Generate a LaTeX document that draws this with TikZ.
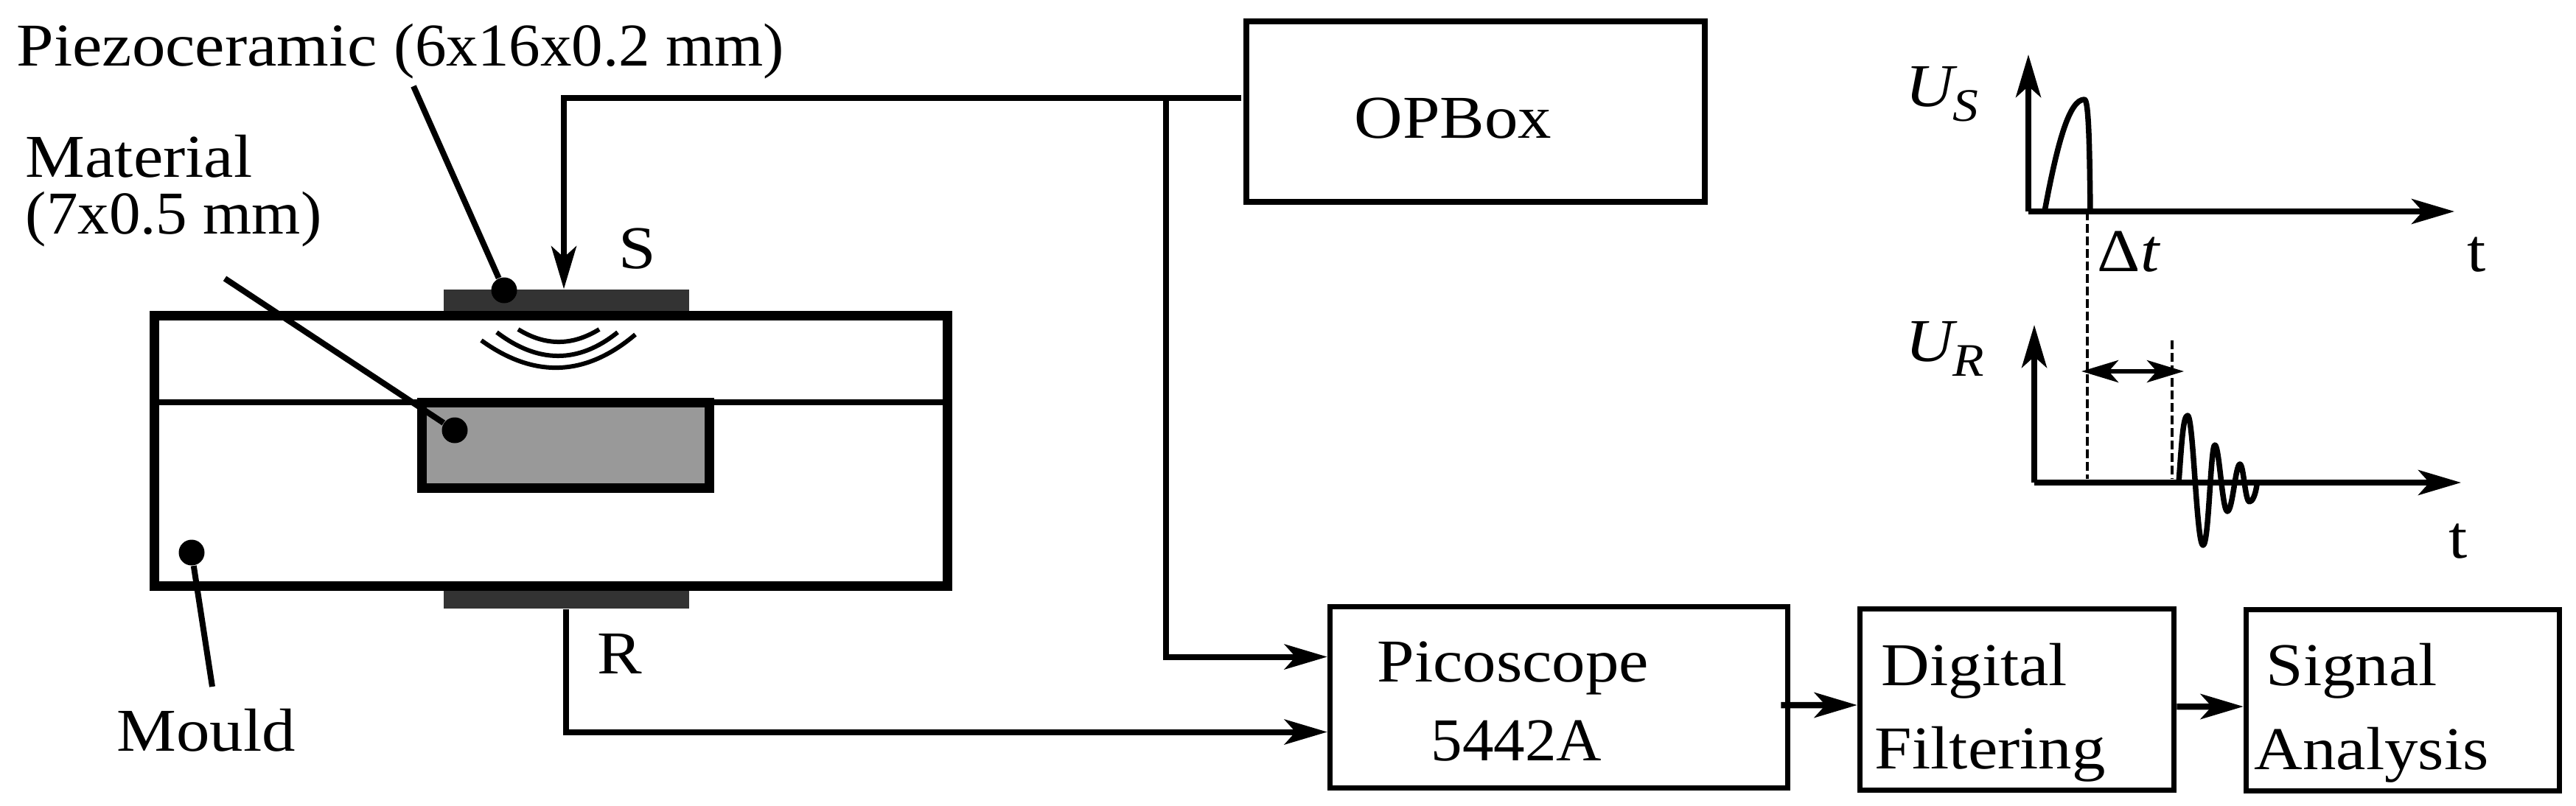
\documentclass[tikz,border=0pt]{standalone}
\usepackage{fontspec}
\setmainfont[FakeStretch=1.1]{Liberation Serif}
\newfontfamily\numfont[FakeStretch=1.03]{Liberation Serif}
\usepackage{tikz}
\usetikzlibrary{arrows.meta}
\newcommand{\volt}[1]{\textit{U}\kern-0.08em\raisebox{-0.25em}{\fontsize{18}{18}\selectfont\textit{#1}}}
\tikzset{
	label/.style={inner sep=0, anchor=base west, font=\fontsize{23.5}{28}\selectfont},
	block/.style={draw, line width=0.75mm, inner sep=0, minimum height=24.6mm},
	piezo/.style={fill=black!80, inner sep=0, minimum width=33.3mm},
	dot/.style={circle, fill=black, inner sep=0, minimum size=3.5mm},
	leader/.style={line width=0.8mm},
	wire/.style={line width=0.8mm},
	tip/.style={-{Stealth[length=5.8mm, width=3.4mm, inset=1.5mm]}},
	flow/.style={line width=0.85mm, tip},
	axis/.style={line width=0.75mm, tip},
	marker/.style={line width=0.35mm, dash pattern=on 1.2mm off 0.5mm},
	trace/.style={line width=0.75mm, line join=round},
	wave/.style={line width=0.6mm}
}
\begin{document}
\begin{tikzpicture}[x=1cm, y=-1cm]
	%%%%% START %%%%%
	\useasboundingbox (0, 0) rectangle (34.95, 10.93);

	\node[piezo, minimum height=3.1mm] (piezoS) at (7.685, 4.085) {};
	\node[piezo, minimum height=2.5mm] (piezoR) at (7.68, 8.135) {};

	\node[draw, line width=1.3mm, inner sep=0, minimum width=107.6mm, minimum height=36.65mm] (mould) at (7.475, 6.118) {};
	\draw[leader] (mould.west |- 0, 5.46) -- (mould.east |- 0, 5.46);
	\node[draw, line width=1.3mm, fill=black!40, inner sep=0, minimum width=39mm, minimum height=11.6mm] (material) at (7.675, 6.045) {};

	% sound waves
	\draw[wave] (6.53, 4.62) .. controls (7.23, 5.127) and (7.93, 5.127) .. (8.62, 4.54);
	\draw[wave] (6.74, 4.51) .. controls (7.30, 4.937) and (7.85, 4.937) .. (8.38, 4.51);
	\draw[wave] (7.03, 4.47) .. controls (7.40, 4.697) and (7.76, 4.697) .. (8.13, 4.47);

	% pointers
	\node[dot] (dotS) at (6.84, 3.94) {};
	\node[dot] (dotM) at (6.17, 5.84) {};
	\node[dot] (dotL) at (2.60, 7.50) {};
	\coordinate (endS) at (5.61, 1.17);
	\coordinate (endM) at (3.05, 3.78);
	\coordinate (endL) at (2.88, 9.32);
	\draw[leader] (endS) -- (dotS);
	\draw[leader] (endM) -- (dotM);
	\draw[leader] (endL) -- (dotL);

	% blocks
	\node[block, minimum width=62.2mm, minimum height=24.5mm] (opbox) at (20.02, 1.515) {};
	\node[block, minimum width=62.1mm] (pico) at (21.15, 9.465) {};
	\node[block, minimum width=42.6mm] (filter) at (27.365, 9.495) {};
	\node[block, minimum width=42.5mm] (analysis) at (32.60, 9.505) {};

	% wiring
	\coordinate (bendS) at (7.65, 1.33);
	\coordinate (branch) at (15.82, 1.33);
	\draw[wire, tip] ([xshift=-0.3mm]opbox.west |- bendS) -- (bendS) -- (bendS |- piezoS.north);
	\draw[wire, tip] (branch) |- ([yshift=5.5mm]pico.west);
	\draw[wire, tip] (piezoR.south) |- ([yshift=-4.7mm]pico.west);
	\draw[flow] ([xshift=-1.3mm, yshift=-1.05mm]pico.east) -- ([yshift=-0.75mm]filter.west);
	\draw[flow] ([yshift=-0.95mm]filter.east) -- ([yshift=-0.85mm]analysis.west);

	% labels
	\node[label] (piezoText) at (0.22, 0.89) {Piezoceramic {\numfont(6x16x0.2 mm)}};
	\node[label] (matText) at (0.34, 2.40) {Material};
	\node[label] (matSize) at (0.34, 3.17) {\numfont(7x0.5 mm)};
	\node[label] (sText) at (8.39, 3.64) {S};
	\node[label] (rText) at (8.10, 9.14) {R};
	\node[label] (mouldText) at (1.58, 10.19) {Mould};
	\node[label] (opText) at (18.37, 1.87) {OPBox};
	\node[label] (picoText) at (18.68, 9.25) {Picoscope};
	\node[label] (modelText) at (19.41, 10.32) {\numfont 5442A};
	\node[label] (digText) at (25.52, 9.30) {Digital};
	\node[label] (filtText) at (25.43, 10.43) {Filtering};
	\node[label] (sigText) at (30.74, 9.30) {Signal};
	\node[label] (anaText) at (30.58, 10.44) {Analysis};

	% plots
	\coordinate (originS) at (27.52, 2.87);
	\coordinate (originR) at (27.60, 6.55);
	\coordinate (topS) at (27.52, 0.74);
	\coordinate (topR) at (27.60, 4.41);
	\coordinate (endTS) at (33.30, 2.87);
	\coordinate (endTR) at (33.39, 6.55);
	\draw[marker] (28.32, 2.87) -- (28.32, 6.50);
	\draw[marker] (29.47, 4.62) -- (29.47, 6.50);
	\draw[axis] (originS) -- (topS);
	\draw[axis] (originS) -- (endTS);
	\draw[axis] (originR) -- (topR);
	\draw[axis] (originR) -- (endTR);
	\draw[trace] (27.74, 2.87) .. controls (27.92, 1.90) and (28.08, 1.35) .. (28.28, 1.35) .. controls (28.34, 1.35) and (28.35, 2.00) .. (28.36, 2.87);
	\draw[trace] (29.56, 6.55) .. controls (29.60, 6.00) and (29.62, 5.64) .. (29.68, 5.64)
		.. controls (29.76, 5.64) and (29.80, 7.40) .. (29.89, 7.40)
		.. controls (29.97, 7.40) and (29.99, 6.04) .. (30.05, 6.04)
		.. controls (30.11, 6.04) and (30.15, 6.94) .. (30.22, 6.94)
		.. controls (30.29, 6.94) and (30.33, 6.30) .. (30.39, 6.30)
		.. controls (30.44, 6.30) and (30.46, 6.81) .. (30.52, 6.81)
		.. controls (30.56, 6.81) and (30.60, 6.72) .. (30.62, 6.58);
	\coordinate (gapL) at (28.24, 5.04);
	\coordinate (gapR) at (29.63, 5.04);
	\draw[wave, {Stealth[length=5mm, width=3mm, inset=1.3mm]}-{Stealth[length=5mm, width=3mm, inset=1.3mm]}] (gapL) -- (gapR);

	\node[label] (uSText) at (25.85, 1.44) {\volt{S}};
	\node[label] (uRText) at (25.85, 4.90) {\volt{R}};
	\node[label] (deltaText) at (28.45, 3.68) {Δ\textit{t}};
	\node[label] (tTopText) at (33.47, 3.68) {t};
	\node[label] (tLowText) at (33.22, 7.57) {t};

	%%%%% END %%%%%
\end{tikzpicture}
\end{document}
